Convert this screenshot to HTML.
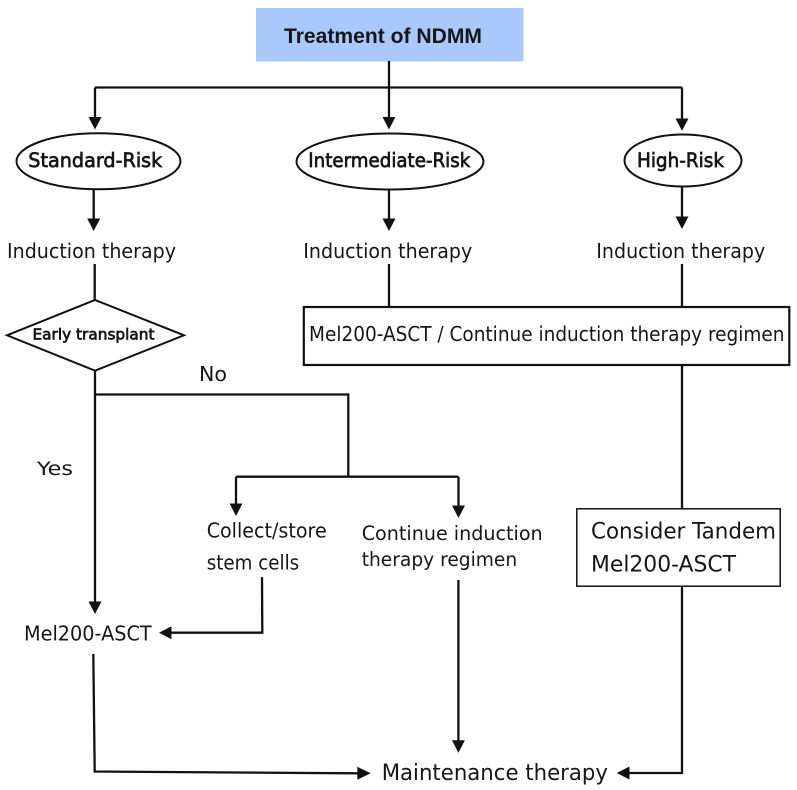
<!DOCTYPE html>
<html><head><meta charset="utf-8"><style>
html,body{margin:0;padding:0;background:#fff;width:797px;height:790px;overflow:hidden}
svg{display:block}
text{font-family:"DejaVu Sans","Liberation Sans",sans-serif;fill:#161616}
.s{stroke:#161616;stroke-width:.7px}
</style></head><body>
<svg width="797" height="790" viewBox="0 0 797 790" xmlns="http://www.w3.org/2000/svg">
<rect width="797" height="790" fill="#fff"/>
<rect x="256" y="8" width="267.5" height="53.5" fill="#a9c8fb"/>
<text x="284" y="43" font-size="21" font-weight="bold" textLength="198" lengthAdjust="spacingAndGlyphs" style="font-family:'Liberation Sans',sans-serif">Treatment of NDMM</text>
<g fill="none" stroke="#111" stroke-width="2.3">
<path d="M389 61V119M95 87.5H682M95 87.5V119M682 87.5V121"/>
<path d="M93.7 190V220M389 190V221M682 187V218"/>
<path d="M94.7 264V300M95 371V604"/>
<path d="M95 394.5H348.3V476.7M236 476.7H458.5M236 476.7V506M458.5 476.7V508"/>
<path d="M389 264V307M682 264V307M682 365V508.5M682 586.5V773H629"/>
<path d="M262 577L262.3 632.7H170"/>
<path d="M93.3 654L94.7 771.5L358 773.3"/>
<path d="M458.4 580V742"/>
</g>
<g fill="#111">
<path d="M95 129.5L88.5 117H101.5Z"/><path d="M389 129.5L382.5 117H395.5Z"/><path d="M682 130.7L675.5 118.5H688.5Z"/>
<path d="M93.7 231L87.2 218.5H100.2Z"/><path d="M389 231L382.5 218.5H395.5Z"/><path d="M682 229L675.5 216.5H688.5Z"/>
<path d="M236 516L229.5 503.5H242.5Z"/><path d="M458.5 518L452 505.5H465Z"/>
<path d="M95 614L88.5 601.5H101.5Z"/>
<path d="M159 632.7L171.5 626.2V639.2Z"/>
<path d="M370.7 773.3L357.3 766.8V779.8Z"/>
<path d="M458.4 752.7L451.9 740.3H464.9Z"/>
<path d="M616.7 773L629.5 766.5V779.5Z"/>
</g>
<g fill="#fff" stroke="#111" stroke-width="2">
<ellipse cx="98.5" cy="161.3" rx="82" ry="28"/>
<ellipse cx="390" cy="161.5" rx="93.5" ry="28"/>
<ellipse cx="683" cy="160.5" rx="58.5" ry="26"/>
<path d="M7 335.3L95 300L184 335.3L95 370.7Z"/>
<rect x="303.8" y="307" width="485.5" height="58" stroke-width="2.2"/>
</g>
<rect x="576.8" y="508.8" width="203.4" height="77.4" fill="#fff" stroke="#111" stroke-width="1.5"/>
<text class="s" x="28.3" y="167" font-size="19.5" textLength="134" lengthAdjust="spacingAndGlyphs">Standard-Risk</text>
<text class="s" x="308.3" y="167" font-size="19.5" textLength="162" lengthAdjust="spacingAndGlyphs">Intermediate-Risk</text>
<text class="s" x="637" y="167" font-size="19.5" textLength="87" lengthAdjust="spacingAndGlyphs">High-Risk</text>
<text x="7" y="258" font-size="20.5" textLength="169" lengthAdjust="spacingAndGlyphs">Induction therapy</text>
<text x="303.3" y="258" font-size="20.5" textLength="169" lengthAdjust="spacingAndGlyphs">Induction therapy</text>
<text x="596.3" y="258" font-size="20.5" textLength="169" lengthAdjust="spacingAndGlyphs">Induction therapy</text>
<text class="s" x="32.5" y="339.5" font-size="15.5" textLength="122" lengthAdjust="spacingAndGlyphs">Early transplant</text>
<text x="309" y="341" font-size="20.5" textLength="475.5" lengthAdjust="spacingAndGlyphs">Mel200-ASCT / Continue induction therapy regimen</text>
<text x="199" y="381" font-size="20" textLength="28" lengthAdjust="spacingAndGlyphs">No</text>
<text x="37" y="475" font-size="19" textLength="36" lengthAdjust="spacingAndGlyphs">Yes</text>
<text x="24" y="640.7" font-size="20" textLength="127.7" lengthAdjust="spacingAndGlyphs">Mel200-ASCT</text>
<text x="381.7" y="780" font-size="22" textLength="226.3" lengthAdjust="spacingAndGlyphs">Maintenance therapy</text>
<text x="206.7" y="537.3" font-size="20" textLength="120" lengthAdjust="spacingAndGlyphs">Collect/store</text>
<text x="206.7" y="569.3" font-size="20" textLength="92.5" lengthAdjust="spacingAndGlyphs">stem cells</text>
<text x="361.7" y="540" font-size="19.5" textLength="181" lengthAdjust="spacingAndGlyphs">Continue induction</text>
<text x="361.7" y="566" font-size="19.5" textLength="155.5" lengthAdjust="spacingAndGlyphs">therapy regimen</text>
<text x="591" y="538.3" font-size="22" textLength="185" lengthAdjust="spacingAndGlyphs">Consider Tandem</text>
<text x="591" y="571.7" font-size="22" textLength="145" lengthAdjust="spacingAndGlyphs">Mel200-ASCT</text>
</svg>
</body></html>
